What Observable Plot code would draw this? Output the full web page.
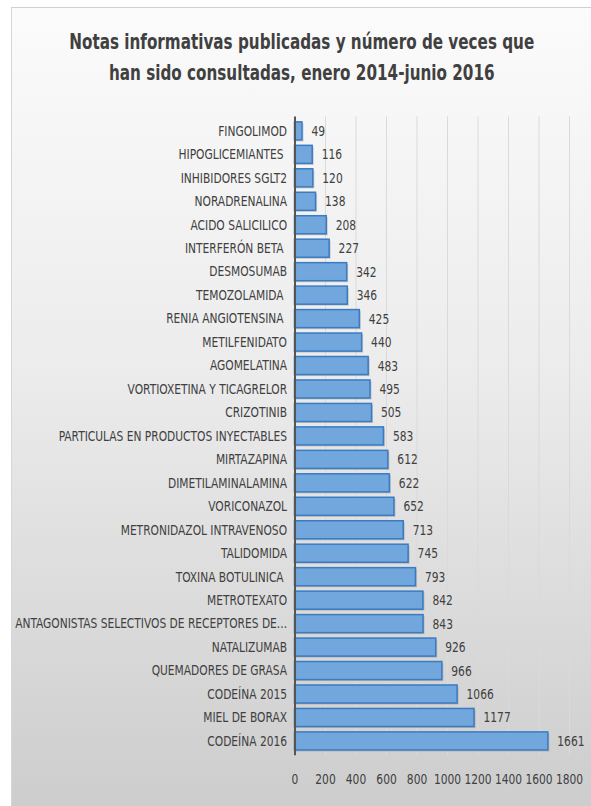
<!DOCTYPE html>
<html>
<head>
<meta charset="utf-8">
<script src="https://cdn.jsdelivr.net/npm/d3@7"></script>
<script src="https://cdn.jsdelivr.net/npm/@observablehq/plot@0.6"></script>
<style>
  html, body { margin: 0; padding: 0; background: #fff; width: 591px; height: 806px; overflow: hidden; }
  #frame {
    position: absolute; left: 11px; top: 7px; width: 580px; height: 799px;
    border-top: 1px solid #cfcfcf; border-left: 1px solid #d6d6d6; box-sizing: border-box;
    background: linear-gradient(to bottom, #fbfbfb 0%, #ececec 45%, #cdcdcd 100%);
    font-family: "DejaVu Sans Condensed", "DejaVu Sans", sans-serif;
  }
  #titlewrap { position: absolute; left: -200px; top: 18px; width: 980px; text-align: center; }
  #title {
    display: inline-block; font-size: 22px; font-weight: bold; color: #404040; line-height: 31px;
    transform-origin: 50% 50%; white-space: nowrap;
  }
  #chart { position: absolute; left: 0; top: 93px; }
</style>
</head>
<body>
<div id="frame">
  <div id="titlewrap"><div id="title">Notas informativas publicadas y número de veces que<br>han sido consultadas, enero 2014-junio 2016</div></div>
  <div id="chart"></div>
</div>
<script>
const categories = [
  "FINGOLIMOD", "HIPOGLICEMIANTES\u00a0", "INHIBIDORES SGLT2", "NORADRENALINA",
  "ACIDO SALICILICO", "INTERFERÓN BETA\u00a0", "DESMOSUMAB", "TEMOZOLAMIDA\u00a0",
  "RENIA ANGIOTENSINA\u00a0", "METILFENIDATO", "AGOMELATINA", "VORTIOXETINA Y TICAGRELOR",
  "CRIZOTINIB", "PARTICULAS EN PRODUCTOS INYECTABLES", "MIRTAZAPINA", "DIMETILAMINALAMINA",
  "VORICONAZOL", "METRONIDAZOL INTRAVENOSO", "TALIDOMIDA", "TOXINA BOTULINICA\u00a0",
  "METROTEXATO", "ANTAGONISTAS SELECTIVOS DE RECEPTORES DE...", "NATALIZUMAB",
  "QUEMADORES DE GRASA", "CODEÍNA 2015", "MIEL DE BORAX", "CODEÍNA 2016"
];
const values = [
  49, 116, 120, 138, 208, 227, 342, 346, 425, 440, 483, 495, 505, 583,
  612, 622, 652, 713, 745, 793, 842, 843, 926, 966, 1066, 1177, 1661
];
const xTicks = [0, 200, 400, 600, 800, 1000, 1200, 1400, 1600, 1800];

const data = categories.map((c, i) => ({ name: c, value: values[i] }));

const chart = Plot.plot({
  width: 580,
  height: 695.5,
  marginLeft: 283,
  marginRight: 22,
  marginTop: 15.5,
  marginBottom: 40,
  style: {
    fontFamily: "'DejaVu Sans Condensed', 'DejaVu Sans', sans-serif",
    fontSize: "13.5px",
    color: "#404040",
    background: "transparent",
    overflow: "visible"
  },
  x: { domain: [0, 1800], ticks: xTicks, label: null },
  y: { domain: categories, padding: 0.23, round: false, label: null },
  marks: [
    Plot.gridX(xTicks.slice(1), { stroke: "#dadada", strokeOpacity: 1, strokeWidth: 1 }),
    Plot.axisX({ ticks: xTicks, tickSize: 0, tickPadding: 18, fontSize: 14, label: null, stroke: "none", tickFormat: d => String(d) }),
    Plot.axisY({ tickSize: 0, tickPadding: 8, fontSize: 13.5, label: null }),
    Plot.barX(data, { x: "value", y: "name", fill: "#7a7a7a", fillOpacity: 0.35, dx: 1.5, dy: 1.5 }),
    Plot.barX(data, { x: "value", y: "name", fill: "#71a7dc", stroke: "#3a7bc2", strokeWidth: 1.5 }),
    Plot.text(data, { x: "value", y: "name", text: d => String(d.value), textAnchor: "start", dx: 9, fontSize: 14, fill: "#404040" }),
    Plot.ruleX([0], { stroke: "#555", strokeWidth: 2 })
  ]
});
document.getElementById("chart").appendChild(chart);

// Narrow the text horizontally to imitate the condensed face of the original
function squeeze(selection, s) {
  selection.each(function () {
    const bb = this.getBBox();
    const anchor = getComputedStyle(this).textAnchor;
    const ax = anchor === "end" ? bb.x + bb.width : anchor === "middle" ? bb.x + bb.width / 2 : bb.x;
    const t = this.getAttribute("transform") || "";
    this.setAttribute("transform", `${t} translate(${ax},0) scale(${s},1) translate(${-ax},0)`);
  });
}
const root = d3.select(chart);
squeeze(root.selectAll("g[aria-label='y-axis tick label'] text"), 0.88);
squeeze(root.selectAll("g[aria-label='x-axis tick label'] text"), 0.85);
squeeze(root.selectAll("g[aria-label='text'] text"), 0.85);

const title = document.getElementById("title");
const w = title.getBoundingClientRect().width;
title.style.transform = `scaleX(${465 / w})`;
</script>
</body>
</html>
